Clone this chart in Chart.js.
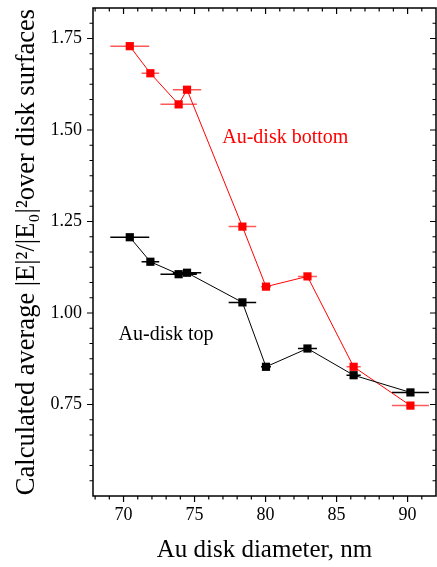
<!DOCTYPE html>
<html>
<head>
<meta charset="utf-8">
<script src="https://cdn.jsdelivr.net/npm/chart.js@4.4.1/dist/chart.umd.min.js"></script>
<style>
  html, body { margin: 0; padding: 0; background: #fff; }
  canvas { display: block; }
</style>
</head>
<body>
<canvas id="chart" width="437" height="567"></canvas>
<script>
// data
const diameters = [70.44, 71.89, 73.88, 74.47, 78.37, 80.03, 82.95, 86.2, 90.2];
const diameterErr = [1.37, 0.62, 1.28, 1.0, 0.97, 0.35, 0.67, 0.5, 1.3];
const topValues = [1.207, 1.140, 1.106, 1.110, 1.029, 0.853, 0.903, 0.830, 0.783];
const bottomValues = [1.729, 1.655, 1.570, 1.610, 1.236, 1.072, 1.100, 0.853, 0.747];
const xTickValues = [70, 75, 80, 85, 90];
const yTickValues = [0.75, 1.00, 1.25, 1.50, 1.75];

const serif = "'Liberation Serif', 'Times New Roman', serif";

// frame with mirrored ticks (outward on left/bottom, inward on top/right)
const frameTicks = {
  id: 'frameTicks',
  afterDatasetsDraw(chart) {
    const {ctx, chartArea: a, scales: {x, y}} = chart;
    ctx.save();
    ctx.strokeStyle = '#000';
    ctx.lineWidth = 1.5;
    ctx.strokeRect(a.left, a.top, a.right - a.left, a.bottom - a.top);
    ctx.lineWidth = 1.2;
    ctx.beginPath();
    for (let v = Math.ceil(x.min); v < x.max; v++) {
      const px = x.getPixelForValue(v);
      const len = v % 5 === 0 ? 6 : 3.5;
      ctx.moveTo(px, a.bottom); ctx.lineTo(px, a.bottom + len);
      ctx.moveTo(px, a.top); ctx.lineTo(px, a.top + len);
    }
    const step = 0.25 / 6;
    for (let i = 1; y.min + i * step < y.max - 1e-6; i++) {
      const v = y.min + i * step;
      const py = y.getPixelForValue(v);
      const len = i % 6 === 0 ? 6 : 3.5;
      ctx.moveTo(a.left - len, py); ctx.lineTo(a.left, py);
      ctx.moveTo(a.right - len, py); ctx.lineTo(a.right, py);
    }
    ctx.stroke();
    ctx.restore();
  }
};

// horizontal error bars on diameter
const errorBars = {
  id: 'errorBars',
  beforeDatasetsDraw(chart) {
    const {ctx, scales: {x, y}} = chart;
    ctx.save();
    ctx.lineWidth = 1.5;
    chart.data.datasets.forEach(ds => {
      ctx.strokeStyle = ds.errColor;
      ctx.beginPath();
      ds.data.forEach((p, i) => {
        const py = y.getPixelForValue(p.y);
        ctx.moveTo(x.getPixelForValue(p.x - diameterErr[i]), py);
        ctx.lineTo(x.getPixelForValue(p.x + diameterErr[i]), py);
      });
      ctx.stroke();
    });
    ctx.restore();
  }
};

// curve labels
const curveLabels = {
  id: 'curveLabels',
  afterDraw(chart) {
    const {ctx, scales: {x, y}} = chart;
    ctx.save();
    ctx.font = '20px ' + serif;
    ctx.textAlign = 'left';
    ctx.textBaseline = 'middle';
    ctx.fillStyle = '#ff0000';
    ctx.fillText('Au-disk bottom', x.getPixelForValue(76.95), y.getPixelForValue(1.478));
    ctx.fillStyle = '#000';
    ctx.fillText('Au-disk top', x.getPixelForValue(69.65), y.getPixelForValue(0.941));
    ctx.restore();
  }
};

const noPad = s => { s.paddingTop = s.paddingBottom = s.paddingLeft = s.paddingRight = 0; };

const toPoints = vals => diameters.map((d, i) => ({x: d, y: vals[i]}));

new Chart(document.getElementById('chart'), {
  type: 'scatter',
  data: {
    datasets: [
      {
        label: 'Au-disk top',
        data: toPoints(topValues),
        showLine: true,
        borderColor: '#000',
        backgroundColor: '#000',
        borderWidth: 1,
        pointStyle: 'rect',
        pointRadius: 5.8,
        pointBorderWidth: 0,
        errColor: '#000'
      },
      {
        label: 'Au-disk bottom',
        data: toPoints(bottomValues),
        showLine: true,
        borderColor: '#ff0000',
        backgroundColor: '#ff0000',
        borderWidth: 1,
        pointStyle: 'rect',
        pointRadius: 5.8,
        pointBorderWidth: 0,
        errColor: 'rgba(255,0,0,0.65)'
      }
    ]
  },
  options: {
    responsive: false,
    animation: false,
    devicePixelRatio: 1,
    layout: { autoPadding: false, padding: { top: 8, right: 1, left: 0, bottom: 0 } },
    plugins: {
      legend: { display: false },
      tooltip: { enabled: false }
    },
    scales: {
      x: {
        type: 'linear',
        min: 67.85,
        max: 92,
        afterBuildTicks: s => { s.ticks = xTickValues.map(v => ({value: v})); },
        afterFit: s => { s.height = 71; noPad(s); },
        grid: { display: false, drawTicks: false },
        border: { display: false },
        ticks: {
          padding: 8,
          color: '#000',
          font: { family: serif, size: 18 },
          callback: v => String(v)
        },
        title: {
          display: true,
          text: 'Au disk diameter, nm',
          color: '#000',
          font: { family: serif, size: 25 },
          padding: { top: 0, bottom: 2 }
        }
      },
      y: {
        type: 'linear',
        min: 0.5,
        max: 1.8333,
        afterBuildTicks: s => { s.ticks = yTickValues.map(v => ({value: v})); },
        afterFit: s => { s.width = 93; noPad(s); },
        grid: { display: false, drawTicks: false },
        border: { display: false },
        ticks: {
          padding: 11,
          color: '#000',
          font: { family: serif, size: 18 },
          callback: v => v.toFixed(2)
        },
        title: {
          display: true,
          text: 'Calculated average |E|²/|E₀|²over disk surfaces',
          color: '#000',
          font: { family: serif, size: 26.5 },
          padding: { top: 11, bottom: 0 }
        }
      }
    }
  },
  plugins: [errorBars, frameTicks, curveLabels]
});
</script>
</body>
</html>
